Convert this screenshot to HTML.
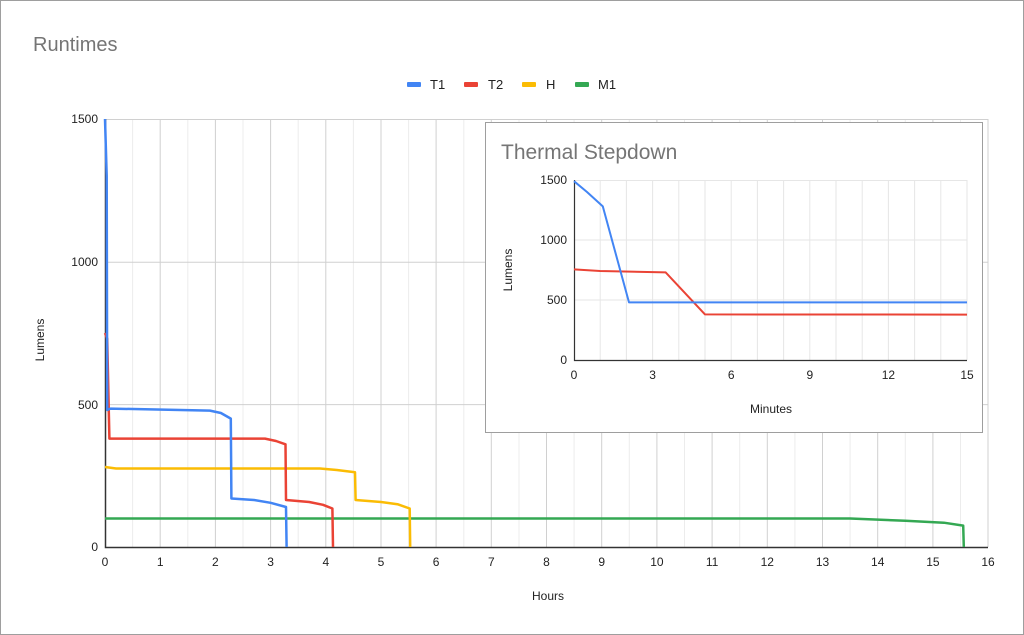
<!DOCTYPE html>
<html><head><meta charset="utf-8"><style>
html,body{margin:0;padding:0;background:#fff}
svg{display:block;font-family:"Liberation Sans",Arial,sans-serif}
</style></head><body>
<svg width="1024" height="635" viewBox="0 0 1024 635" xmlns="http://www.w3.org/2000/svg">
<rect x="0.5" y="0.5" width="1023" height="634" fill="#fff" stroke="#9e9e9e"/>
<text x="33" y="51" font-size="20" fill="#757575">Runtimes</text>
<g font-size="13" fill="#222">
<rect x="407" y="82" width="14" height="5" rx="1" fill="#4285f4"/><text x="430" y="89">T1</text>
<rect x="464" y="82" width="14" height="5" rx="1" fill="#ea4335"/><text x="488" y="89">T2</text>
<rect x="522" y="82" width="14" height="5" rx="1" fill="#fbbc04"/><text x="546" y="89">H</text>
<rect x="575" y="82" width="14" height="5" rx="1" fill="#34a853"/><text x="598" y="89">M1</text>
</g>
<g stroke="#ececec" stroke-width="1">
<path d="M132.6 119V547M187.8 119V547M243 119V547M298.2 119V547M353.4 119V547M408.6 119V547M463.8 119V547M519 119V547M574.1 119V547M629.3 119V547M684.5 119V547M739.7 119V547M794.9 119V547M850.1 119V547M905.3 119V547M960.5 119V547"/>
</g>
<g stroke="#d0d0d0" stroke-width="1">
<path d="M160.2 119V547M215.4 119V547M270.6 119V547M325.8 119V547M381 119V547M436.1 119V547M491.3 119V547M546.5 119V547M601.7 119V547M656.9 119V547M712.1 119V547M767.3 119V547M822.5 119V547M877.7 119V547M932.9 119V547M988 119V547"/>
<path d="M105 119.5H988M105 262.3H988M105 404.6H988"/>
</g>
<path d="M105.5 119V547.5H988" fill="none" stroke="#333" stroke-width="1.5"/>
<g font-size="12" fill="#222" text-anchor="end">
<text x="98" y="123">1500</text><text x="98" y="266">1000</text><text x="98" y="409">500</text><text x="98" y="551">0</text>
</g>
<g font-size="12" fill="#222" text-anchor="middle">
<text x="105" y="566">0</text><text x="160.2" y="566">1</text><text x="215.4" y="566">2</text><text x="270.6" y="566">3</text><text x="325.8" y="566">4</text><text x="381" y="566">5</text><text x="436.1" y="566">6</text><text x="491.3" y="566">7</text><text x="546.5" y="566">8</text><text x="601.7" y="566">9</text><text x="656.9" y="566">10</text><text x="712.1" y="566">11</text><text x="767.3" y="566">12</text><text x="822.5" y="566">13</text><text x="877.7" y="566">14</text><text x="932.9" y="566">15</text><text x="988" y="566">16</text>
<text x="548" y="600">Hours</text>
<text x="44" y="340" transform="rotate(-90 44 340)">Lumens</text>
</g>
<g fill="none" stroke-width="2.5" stroke-linejoin="round">
<polyline stroke="#34a853" points="105,518.5 850,518.5 905.3,520.8 943.9,522.7 963.2,525.6 963.8,547"/>
<polyline stroke="#fbbc04" points="105,467 116,468.5 320,468.5 336.8,470 355,472.3 355.6,500 381,502 397.5,504.2 409.7,508.5 410.2,547"/>
<polyline stroke="#ea4335" points="105,333 107.2,338.7 109.4,438.6 265,438.6 276,441 285.5,444.3 286,500 309.2,502 323,504.8 332.4,508.5 333,547"/>
<polyline stroke="#4285f4" points="105,119 106.7,176 107.2,410 110.5,408.6 209.9,410.6 220.9,413 230.8,418.6 231.4,498.5 254,500 270.6,502.8 286,507 286.6,547"/>
</g>
<rect x="485.5" y="122.5" width="497" height="310" fill="#fff" stroke="#9e9e9e"/>
<text x="501" y="159" font-size="21" fill="#757575">Thermal Stepdown</text>
<g stroke="#e6e6e6" stroke-width="1">
<path d="M600.2 180V360M626.4 180V360M652.6 180V360M678.8 180V360M705 180V360M731.2 180V360M757.4 180V360M783.6 180V360M809.8 180V360M836 180V360M862.2 180V360M888.4 180V360M914.6 180V360M940.8 180V360M967 180V360"/>
<path d="M574 180.5H967M574 240H967M574 300H967"/>
</g>
<path d="M574.5 180V360.5H967" fill="none" stroke="#333" stroke-width="1.2"/>
<g font-size="12" fill="#222" text-anchor="end">
<text x="567" y="184">1500</text><text x="567" y="244">1000</text><text x="567" y="304">500</text><text x="567" y="364">0</text>
</g>
<g font-size="12" fill="#222" text-anchor="middle">
<text x="574" y="379">0</text><text x="652.6" y="379">3</text><text x="731.2" y="379">6</text><text x="809.8" y="379">9</text><text x="888.4" y="379">12</text><text x="967" y="379">15</text>
<text x="771" y="413">Minutes</text>
<text x="512" y="270" transform="rotate(-90 512 270)">Lumens</text>
</g>
<g fill="none" stroke-width="2" stroke-linejoin="round">
<polyline stroke="#ea4335" points="574,269.4 600,271 665.7,272.4 705,314.4 967,314.6"/>
<polyline stroke="#4285f4" points="574,181.2 587,192 602.8,206.4 629,302.4 967,302.4"/>
</g>
</svg>
</body></html>
